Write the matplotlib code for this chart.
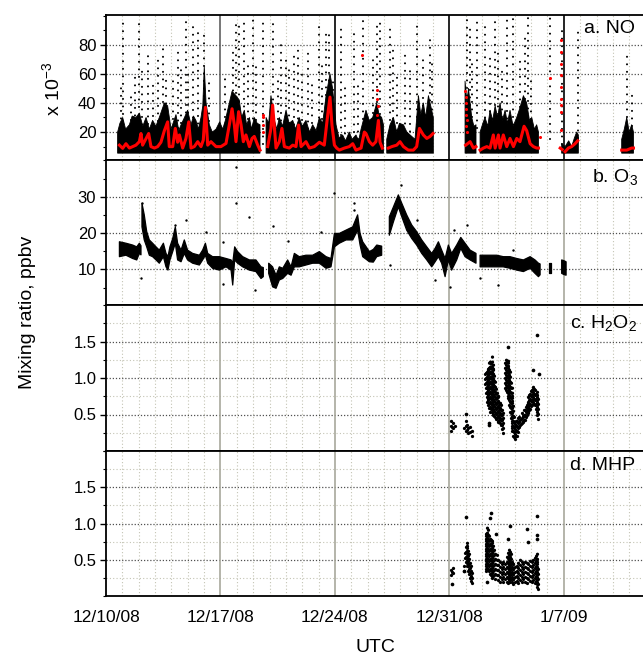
import numpy as np
import matplotlib
matplotlib.use('Agg')
import matplotlib.pyplot as plt
from matplotlib.ticker import MultipleLocator, FixedLocator

nan = np.nan

# ---------------- data (days since 12/10/08 00 UTC) ----------------
tick_days = [0, 7, 14, 21, 28]
tick_labels = ['12/10/08', '12/17/08', '12/24/08', '12/31/08', '1/7/09']

# NO (x 10^-3 ppbv): red smoothed trace
no_red_t = [0.82, 1.02, 1.22, 1.43, 1.63, 1.83, 2.04, 2.14, 2.24, 2.45, 2.61, 2.75, 2.96, 3.16, 3.36, 3.57, 3.77, 3.87,
            4.08, 4.24, 4.38, 4.49, 4.69, 4.89, 5.06, 5.20, 5.40, 5.61, 5.81, 5.95, 6.08, 6.22, 6.42, 6.73, 7.03, 7.34,
            7.54, 7.71, 7.85, 7.95, 8.11, 8.26, 8.40, 8.56, 8.77, 8.93, 9.07, 9.28, 9.42, nan,
            9.89, 10.09, 10.19, 10.40, 10.60, 10.76, 10.91, 11.21, 11.42, 11.62, 11.78, 11.93, 12.23, 12.44, 12.74,
            13.05, 13.35, 13.56, 13.70, 13.82, 13.97, 14.11, 14.27, 14.58, 14.88, 15.09, 15.29, 15.60, 15.80, 15.90,
            16.11, 16.31, 16.51, 16.66, 16.76, 16.90, nan,
            17.27, 17.48, 17.78, 17.98, 18.19, 18.49, 18.80, 19.00, 19.17, 19.41, 19.62, 19.82, 20.00, nan,
            22.00, 22.27, 22.47, 22.63, nan,
            22.88, 23.08, 23.29, 23.49, 23.69, 23.80, 24.00, 24.10, 24.30, 24.51, 24.71, 24.92, 25.12, 25.32, 25.57,
            25.73, 25.94, 26.14, 26.34, 26.45, nan,
            27.78, 27.90, nan, 28.08, 28.28, 28.48, 28.69, 28.85, nan,
            31.54, 31.85, 32.15, 32.26]
no_red_v = [11, 8.8, 12, 9, 10, 11, 13.4, 19, 11, 15.6, 19, 10, 9, 10, 13, 21, 27, 10,
            10, 22.5, 13, 18, 9, 15.6, 27, 9, 10, 13.4, 10, 14.5, 37, 11, 13.4, 10, 10, 12.2,
            24.8, 36, 24.8, 13.4, 34, 25, 13.4, 18, 10, 15.6, 17, 11, 7.6, nan,
            10, 22.5, 38.5, 9, 13.4, 22.5, 10, 9, 11, 10, 24.8, 10, 13.4, 9, 10,
            13, 11, 31.7, 44, 24.8, 11, 9, 7.6, 9, 10, 12, 7.6, 9, 20, 19,
            13.4, 11, 13.4, 28, 13, 9, nan,
            9, 10, 11, 13.4, 10, 7.6, 7.6, 10, 22.5, 18, 15.6, 17, 19, nan,
            11, 13.4, 9, 10, nan,
            7.6, 9, 10, 9, 18, 9, 18, 9, 18, 10, 15.6, 10, 15.6, 13.4, 24,
            21, 12, 10, 9, 9, nan,
            9, 8, nan, 6.5, 9, 10, 12, 14, nan,
            7.6, 7.6, 9, 9]
# isolated red points
no_reddot_t = [9.58, 9.58, 9.60, 9.60, 15.66, 16.60, 16.60, 16.62, 16.60, 21.98, 22.00, 22.02, 22.04, 22.00,
               22.06, 22.02, 22.08, 26.55, 27.16, 27.81, 27.81, 27.81, 27.81, 27.81, 27.81, 27.81, 27.81, 27.81]
no_reddot_v = [20, 25, 30, 32, 73, 49, 43, 38, 32, 48, 44, 40, 36, 32,
               28, 24, 20, 16.8, 56.9, 83, 75, 67, 59, 51, 43, 38.5, 34, 21.4]
# black 1-s data: dense band top envelope
no_floor = 5.5
no_dense_t = [0.71, 0.85, 1.02, 1.20, 1.43, 1.60, 1.83, 2.04, 2.25, 2.45, 2.65, 2.85, 3.05, 3.26, 3.57, 3.77, 3.98,
              4.28, 4.45, 4.59, 4.80, 4.99, 5.20, 5.35, 5.50, 5.65, 5.81, 5.92, 6.01, 6.12, 6.32, 6.50, 6.73, 6.95,
              7.14, 7.30, 7.44, 7.71, 7.95, 8.15, 8.30, 8.46, 8.60, 8.77, 8.90, 9.07, 9.25, 9.42, nan,
              9.79, 9.95, 10.09, 10.30, 10.45, 10.60, 10.80, 11.01, 11.20, 11.42, 11.60, 11.82, 12.00, 12.23, 12.45,
              12.64, 12.85, 13.05, 13.25, 13.46, 13.70, 13.86, 14.07, 14.25, 14.47, 14.65, 14.88, 15.05, 15.29,
              15.45, 15.60, 15.90, 16.10, 16.31, 16.56, 16.70, 16.86, 16.97, nan,
              17.17, 17.37, 17.58, 17.78, 17.95, 18.19, 18.40, 18.60, 18.90, 19.11, 19.25, 19.41, 19.55, 19.72,
              19.92, 20.02, nan,
              21.96, 22.07, 22.17, 22.37, 22.50, 22.63, nan,
              22.88, 23.05, 23.18, 23.35, 23.49, 23.65, 23.80, 23.95, 24.10, 24.25, 24.41, 24.55, 24.71, 24.90,
              25.12, 25.30, 25.53, 25.73, 25.90, 26.04, 26.20, 26.34, 26.45, nan,
              27.87, 28.08, 28.30, 28.48, 28.65, 28.79, 28.89, nan,
              31.54, 31.70, 31.85, 32.00, 32.15, 32.26]
no_dense_hi = [20, 26, 30, 22, 25, 31, 30, 33, 24, 30, 22, 28, 24, 30, 40, 38, 22,
               32, 21, 25, 30, 35, 25, 31, 28, 22, 30, 38, 65, 40, 25, 20, 22, 27,
               22, 28, 35, 48, 45, 42, 30, 35, 25, 30, 22, 30, 26, 25, nan,
               30, 26, 45, 28, 22, 30, 24, 35, 26, 28, 22, 30, 24, 28, 20,
               25, 21, 30, 26, 45, 60, 50, 25, 16, 18, 14, 20, 15, 18,
               14, 22, 35, 28, 30, 40, 32, 30, 25, nan,
               15, 25, 30, 20, 26, 25, 20, 18, 15, 45, 32, 40, 30, 45,
               35, 30, nan,
               55, 40, 50, 30, 24, 25, nan,
               20, 26, 30, 24, 35, 28, 38, 30, 40, 28, 35, 26, 35, 24,
               30, 36, 45, 40, 28, 30, 22, 25, 20, nan,
               12, 10, 14, 10, 16, 20, 18, nan,
               15, 22, 30, 20, 25, 20]
# sparse high spikes (columns of points)
no_spike_t = [0.90, 1.02, 1.50, 1.80, 2.04, 2.20, 2.55, 2.90, 3.20, 3.47, 3.67, 4.10, 4.38, 4.60, 4.89, 5.00, 5.30,
              5.61, 6.01, 6.30, 7.30, 7.75, 7.95, 8.15, 8.46, 8.70, 8.97, 9.20, 9.58, 10.19, 10.50, 10.70, 11.00,
              11.21, 11.50, 11.72, 12.00, 12.33, 12.60, 13.05, 13.20, 13.46, 13.66, 13.86, 14.37, 14.60, 15.19,
              15.40, 15.70, 16.31, 16.56, 16.76, 17.37, 17.58, 17.80, 18.29, 18.60, 19.00, 19.40, 19.82, 19.92,
              22.06, 22.27, 22.40, 22.67, 23.18, 23.50, 23.80, 24.00, 24.20, 24.51, 24.92, 25.30, 25.63, 25.83,
              26.00, 27.16, 27.87, 28.89, 31.85, 32.15]
no_spike_top = [50, 96, 45, 60, 95, 65, 77, 55, 70, 81, 59, 60, 75, 65, 96, 60, 95,
                89, 90, 55, 60, 77, 98, 97, 97, 70, 98, 65, 99, 99, 60, 83, 70,
                66, 75, 77, 60, 75, 55, 94, 70, 90, 91, 59, 91, 50, 89,
                55, 99, 70, 96, 99, 93, 78, 60, 76, 65, 97, 70, 84, 68,
                99, 93, 70, 98, 93, 75, 99, 75, 65, 99, 99, 70, 87, 99,
                60, 98, 91, 89, 73, 49]
no_spike_lo = [14, 22, 18, 16, 27, 20, 15, 21, 17, 30, 24, 19, 23, 16, 28, 18, 25,
               21, 45, 17, 20, 33, 26, 30, 22, 19, 24, 18, 12, 27, 19, 23, 17,
               26, 20, 24, 18, 22, 16, 25, 19, 35, 40, 28, 18, 14, 20,
               15, 19, 23, 30, 22, 18, 24, 16, 21, 15, 20, 33, 26, 30,
               40, 28, 20, 23, 25, 19, 28, 22, 30, 24, 20, 27, 22, 31,
               19, 15, 12, 16, 20, 14]

# O3 (ppbv): band low / high
o3_t = [0.82, 1.22, 1.63, 1.88, 2.04, 2.14, nan,
        2.20, 2.34, 2.49, 2.65, 2.85, 3.06, 3.26, 3.51, 3.67, 3.79, 3.91, 4.08, 4.24, 4.38, 4.59, 4.79, 4.99, 5.30,
        5.71, 5.91, 6.08, 6.22, 6.52, 6.93, 7.34, 7.65, 7.75, 7.87, 8.05, 8.36, 8.77, 9.17, 9.48, 9.62, nan,
        9.95, 10.19, 10.40, 10.60, 10.81, 11.11, 11.32, 11.52, 11.82, 12.23, 12.64, 13.05, 13.46, 13.76, 13.97,
        14.27, 14.68, 15.09, 15.39, 15.54, 15.70, 16.11, 16.35, 16.56, 16.86, nan,
        17.33, 17.58, 17.88, 18.09, 18.39, 18.70, 19.00, 19.31, 19.62, 19.92, 20.13, 20.33, 20.53, 20.74, 20.94,
        21.14, 21.45, 21.70, 21.96, 22.27, 22.63, nan,
        22.88, 23.29, 23.90, 24.30, 24.71, 25.12, 25.53, 25.94, 26.24, 26.45, 26.55, nan,
        27.10, 27.20, nan, 27.87, 28.00, 28.14]
o3_lo = [13.5, 13.9, 13.0, 12.6, 14.4, 14.0, nan,
         21.7, 18.1, 16.2, 13.9, 13.5, 12.6, 11.7, 13.5, 10.7, 9.8, 12.6, 14.9, 17.2, 12.6, 12.1, 14.4, 12.6, 11.7,
         11.2, 12.6, 13.9, 11.7, 10.3, 9.8, 10.7, 9.8, 5.7, 12.6, 11.7, 10.7, 9.8, 9.4, 7.5, 8.0, nan,
         8.9, 5.2, 4.8, 7.1, 7.5, 8.9, 8.4, 10.7, 10.7, 11.2, 11.7, 11.7, 10.3, 10.7, 16.2,
         17.2, 18.1, 18.1, 20.8, 16.7, 13.5, 12.1, 12.0, 13.5, 13.9, nan,
         19.4, 23.1, 27.2, 24.5, 20.8, 18.5, 16.7, 14.4, 12.6, 10.7, 12.1, 13.5, 11.7, 8.0, 12.6,
         9.8, 12.6, 15.8, 13.5, 12.6, 11.7, nan,
         10.7, 10.7, 10.7, 10.7, 10.3, 9.8, 9.4, 10.3, 8.9, 8.0, 8.5, nan,
         8.9, 8.9, nan, 8.9, 8.6, 8.4]
o3_hi = [17.6, 17.2, 16.7, 16.2, 17.2, 16.5, nan,
         28.2, 25.0, 20.4, 18.1, 17.2, 16.2, 15.3, 17.2, 14.4, 13.5, 16.2, 18.5, 21.7, 17.2, 15.3, 18.1, 15.3, 14.4,
         13.9, 15.3, 17.2, 14.4, 13.5, 13.5, 13.0, 12.6, 11.7, 16.2, 14.9, 13.5, 12.6, 12.6, 10.7, 10.5, nan,
         11.7, 10.7, 8.4, 10.7, 10.3, 12.6, 10.7, 14.4, 13.5, 13.9, 13.9, 14.9, 13.5, 13.0, 19.9,
         19.9, 20.8, 21.7, 25.0, 19.9, 17.6, 14.9, 15.5, 16.7, 16.4, nan,
         24.5, 27.2, 30.5, 28.2, 25.0, 22.2, 20.4, 18.1, 16.2, 14.4, 15.8, 17.6, 15.3, 13.0, 16.7,
         14.4, 16.7, 18.8, 17.2, 15.3, 14.4, nan,
         13.9, 13.9, 13.9, 13.5, 13.5, 13.0, 12.6, 13.5, 12.6, 11.7, 11.5, nan,
         11.7, 11.7, nan, 12.6, 12.4, 12.1]
o3_out_t = [7.95, 7.95, 2.20, 8.73, 7.14, 7.14, 9.13, 10.19, 11.11, 13.97, 15.19, 15.19, 4.24, 2.14, 4.89, 6.12,
            13.15, 18.03, 17.37, 21.04, 22.88, 24.00, 20.13, 21.30, 22.06, 19.00, 24.92]
o3_out_v = [38.1, 28.2, 28.2, 24.3, 17.6, 6.1, 4.3, 21.9, 17.8, 30.9, 28.2, 26.3, 22.2, 7.5, 23.6, 20.4,
            20.4, 33.2, 11.2, 5.2, 7.5, 5.7, 7.1, 20.8, 22.2, 23.6, 15.3]

# H2O2 (ppbv): sample columns low / high
h2o2_t = [21.10, 21.18, 21.25, 21.35, 21.90, 22.00, 22.08, 22.16, 22.24, 22.37,
          23.18, 23.23, 23.28, 23.34, 23.39, 23.44, 23.49, 23.54, 23.59, 23.64, 23.69, 23.74, 23.79, 23.85, 23.90,
          23.95, 24.00, 24.05, 24.10, 24.15, 24.20, 24.25, 24.30,
          24.41, 24.46, 24.51, 24.56, 24.61, 24.66, 24.71, 24.76, 24.81, 24.86, 24.92,
          24.97, 25.02, 25.07, 25.12, 25.17, 25.22, 25.27, 25.32, 25.38, 25.43, 25.48, 25.53, 25.58, 25.63, 25.68,
          25.73, 25.78, 25.83, 25.88, 25.93, 25.98, 26.04, 26.09, 26.14, 26.19, 26.24, 26.29, 26.34, 26.39, 26.44]
h2o2_lo = [0.28, 0.33, 0.31, 0.34, 0.31, 0.27, 0.29, 0.24, 0.26, 0.21,
           0.92, 0.80, 0.67, 0.71, 0.63, 0.59, 0.54, 0.57, 0.53, 0.50, 0.51, 0.48, 0.47, 0.44, 0.45,
           0.41, 0.40, 0.42, 0.38, 0.36, 0.35, 0.30, 0.24,
           0.86, 0.84, 0.81, 0.76, 0.72, 0.63, 0.54, 0.45, 0.31, 0.27, 0.21,
           0.19, 0.17, 0.20, 0.21, 0.26, 0.31, 0.33, 0.35, 0.37, 0.38, 0.41, 0.40, 0.43, 0.42, 0.46,
           0.49, 0.52, 0.54, 0.56, 0.58, 0.61, 0.63, 0.65, 0.67, 0.64, 0.63, 0.58, 0.54, 0.49, 0.44]
h2o2_hi = [0.44, 0.40, 0.42, 0.40, 0.38, 0.42, 0.40, 0.38, 0.35, 0.33,
           1.09, 1.12, 1.11, 1.15, 1.18, 1.22, 1.27, 1.25, 1.34, 1.20, 1.16, 1.05, 0.97, 0.88, 0.81,
           0.79, 0.77, 0.70, 0.67, 0.66, 0.63, 0.58, 0.54,
           1.27, 1.30, 1.29, 1.26, 1.22, 1.15, 1.09, 1.00, 0.90, 0.78, 0.67,
           0.52, 0.44, 0.46, 0.44, 0.47, 0.49, 0.48, 0.47, 0.51, 0.54, 0.53, 0.54, 0.57, 0.58, 0.62,
           0.67, 0.72, 0.77, 0.80, 0.83, 0.86, 0.88, 0.89, 0.90, 0.88, 0.86, 0.85, 0.86, 0.82, 0.77]
h2o2_out_t = [22.02, 23.43, 24.61, 26.34, 26.14, 26.50, 23.40]
h2o2_out_v = [0.51, 0.39, 1.43, 1.59, 1.11, 1.06, 0.36]

# MHP (ppbv)
mhp_t = [21.08, 21.14, 21.20, 21.90, 21.96, 22.01, 22.06, 22.11, 22.16, 22.21, 22.26, 22.32, 22.37,
         23.22, 23.27, 23.32, 23.38, 23.43, 23.48, 23.53, 23.58, 23.63, 23.68, 23.73, 23.80, 23.90, 24.00,
         24.10, 24.20, 24.30, 24.40, 24.51, 24.56, 24.61, 24.66, 24.71, 24.76, 24.81, 24.87, 24.92, 25.02,
         25.12, 25.22, 25.32, 25.42, 25.53, 25.63, 25.73, 25.83, 25.93, 26.04, 26.14, 26.24, 26.29, 26.34,
         26.39, 26.44]
mhp_lo = [0.29, 0.33, 0.32, 0.34, 0.52, 0.47, 0.45, 0.41, 0.34, 0.30, 0.25, 0.21, 0.18,
          0.34, 0.37, 0.39, 0.36, 0.34, 0.31, 0.29, 0.27, 0.25, 0.28, 0.29, 0.23, 0.29, 0.22,
          0.20, 0.24, 0.20, 0.23, 0.20, 0.18, 0.25, 0.22, 0.20, 0.24, 0.20, 0.17, 0.23, 0.19,
          0.21, 0.18, 0.22, 0.19, 0.24, 0.20, 0.18, 0.23, 0.21, 0.19, 0.22, 0.18, 0.21, 0.16,
          0.12, 0.09]
mhp_hi = [0.43, 0.39, 0.41, 0.48, 0.66, 0.74, 0.80, 0.75, 0.66, 0.60, 0.52, 0.45, 0.39,
          0.89, 0.93, 0.98, 0.94, 0.89, 0.86, 0.84, 0.81, 0.80, 0.72, 0.66, 0.63, 0.61, 0.56,
          0.52, 0.50, 0.48, 0.51, 0.55, 0.58, 0.61, 0.65, 0.68, 0.60, 0.52, 0.50, 0.48, 0.47,
          0.48, 0.50, 0.52, 0.49, 0.48, 0.51, 0.52, 0.50, 0.52, 0.54, 0.55, 0.57, 0.59, 0.61,
          0.50, 0.39]
mhp_out_t = [21.14, 22.02, 21.92, 23.53, 23.49, 24.71, 25.73, 26.34, 26.34, 25.83, 23.28, 26.34, 24.61, 23.85]
mhp_out_v = [0.16, 1.09, 0.34, 1.14, 1.07, 0.96, 0.93, 1.10, 0.84, 0.75, 0.20, 0.78, 0.78, 0.85]

# ---------------- style ----------------
plt.rcParams['font.family'] = ['Liberation Sans', 'DejaVu Sans']
plt.rcParams['mathtext.fontset'] = 'custom'
plt.rcParams['mathtext.rm'] = 'Liberation Sans'
plt.rcParams['mathtext.it'] = 'Liberation Sans'

fig = plt.figure(figsize=(6.43, 6.57), dpi=100)
W, H = 643, 657
left_px, right_px = 106, 650
bounds = [(15, 160), (160, 305), (305, 451), (451, 596)]
axes = []
for top, bot in bounds:
    ax = fig.add_axes([left_px / W, 1 - bot / H, (right_px - left_px) / W, (bot - top) / H])
    axes.append(ax)

XMAX = (right_px - 106) / 16.35
grid_major_c = '#505050'
grid_minor_c = '#c4c4b4'


def frame(ax, ylim, major, minor, minor_grid=False):
    ax.set_xlim(0, XMAX)
    ax.set_ylim(*ylim)
    ax.xaxis.set_major_locator(FixedLocator(tick_days))
    ax.xaxis.set_minor_locator(MultipleLocator(1))
    ax.yaxis.set_major_locator(FixedLocator(major))
    ax.yaxis.set_minor_locator(MultipleLocator(minor))
    for d in range(1, 33):
        if d % 7:
            ax.axvline(d, color=grid_minor_c, lw=0.8, ls=(0, (1, 2)), zorder=0)
    for v in major:
        ax.axhline(v, color=grid_major_c, lw=0.9, ls=(0, (1, 1.5)), zorder=0)
    if minor_grid:
        v = minor
        while v < ylim[1]:
            if all(abs(v - m) > 1e-6 for m in major):
                ax.axhline(v, color=grid_minor_c, lw=0.8, ls=(0, (1, 2)), zorder=0)
            v += minor
    ax.tick_params(axis='x', which='both', length=0, labelbottom=False, pad=10, labelsize=12.5)
    ax.tick_params(axis='y', which='major', length=4, width=1, labelsize=12, pad=3)
    ax.tick_params(axis='y', which='minor', length=2.5, width=0.8)
    for s in ['left', 'top', 'bottom']:
        ax.spines[s].set_linewidth(1.3)
    ax.spines['right'].set_visible(False)


def dot_columns(ax, t, lo, hi, lw, gap):
    for ti, l, h in zip(t, lo, hi):
        ax.plot([ti, ti], [l, h], color='k', lw=lw, ls=(0, (0.01, gap)),
                dash_capstyle='round', solid_capstyle='round', zorder=3)


# ---- panel a: NO
ax = axes[0]
frame(ax, (0.8, 100.4), [20, 40, 60, 80], 10)
for d, c in zip([7, 14, 21, 28], ['#606060', 'k', 'k', 'k']):
    ax.axvline(d, color=c, lw=1.2, zorder=1)
for ti, lo, top in zip(no_spike_t, no_spike_lo, no_spike_top):
    ax.plot([ti, ti], [lo, top], color='k', lw=1.5, ls=(0, (0.01, 3.6)),
            dash_capstyle='round', zorder=2)
ax.fill_between(no_dense_t, no_floor, no_dense_hi, color='k', lw=0.6, zorder=2)
ax.plot(no_red_t, no_red_v, color='#ff0000', lw=2.2, zorder=4)
ax.scatter(no_reddot_t, no_reddot_v, s=5, color='#ff0000', lw=0, zorder=4)
ax.text(0.985 * 537 / (right_px - 106), 0.91, 'a. NO', transform=ax.transAxes, ha='right', va='center', fontsize=14)

# ---- panel b: O3
ax = axes[1]
frame(ax, (0.2, 40.1), [10, 20, 30], 5)
for d in [7, 14, 21, 28]:
    ax.axvline(d, color='#a8a89c', lw=1.2, zorder=1)
ax.fill_between(o3_t, o3_lo, o3_hi, color='k', lw=0.9, zorder=2)
ax.scatter(o3_out_t, o3_out_v, s=3, color='k', lw=0, zorder=3)
ax.text(0.99 * 537 / (right_px - 106), 0.88, 'b. O$_3$', transform=ax.transAxes, ha='right', va='center',
        fontsize=14)

# ---- panel c: H2O2
ax = axes[2]
frame(ax, (0.0, 2.0), [0.5, 1.0, 1.5], 0.25, minor_grid=True)
ax.set_yticklabels(['0.5', '1.0', '1.5'])
for d in [7, 14, 21, 28]:
    ax.axvline(d, color='#a8a89c', lw=1.2, zorder=1)
dot_columns(ax, h2o2_t, h2o2_lo, h2o2_hi, 2.4, 1.5)
ax.scatter(h2o2_out_t, h2o2_out_v, s=7, color='k', lw=0, zorder=3)
ax.text(0.99 * 537 / (right_px - 106), 0.88, 'c. H$_2$O$_2$', transform=ax.transAxes, ha='right', va='center',
        fontsize=14)

# ---- panel d: MHP
ax = axes[3]
frame(ax, (0.0, 2.0), [0.5, 1.0, 1.5], 0.25, minor_grid=True)
ax.set_yticklabels(['0.5', '1.0', '1.5'])
for d in [7, 14, 21, 28]:
    ax.axvline(d, color='#a8a89c', lw=1.2, zorder=1)
dot_columns(ax, mhp_t, mhp_lo, mhp_hi, 2.4, 1.5)
ax.scatter(mhp_out_t, mhp_out_v, s=7, color='k', lw=0, zorder=3)
ax.text(0.985 * 537 / (right_px - 106), 0.90, 'd. MHP', transform=ax.transAxes, ha='right', va='center',
        fontsize=14)
ax.tick_params(axis='x', labelbottom=True)
ax.set_xticklabels(tick_labels)

fig.text(375 / W, 1 - 648 / H, 'UTC', ha='center', va='center', fontsize=14)
fig.text(28 / W, 1 - 312 / H, 'Mixing ratio, ppbv', rotation=90, ha='center', va='center', fontsize=14)
fig.text(52 / W, 1 - 89 / H, 'x 10$^{-3}$', rotation=90, ha='center', va='center', fontsize=14)

fig.savefig('out.png', dpi=100)
